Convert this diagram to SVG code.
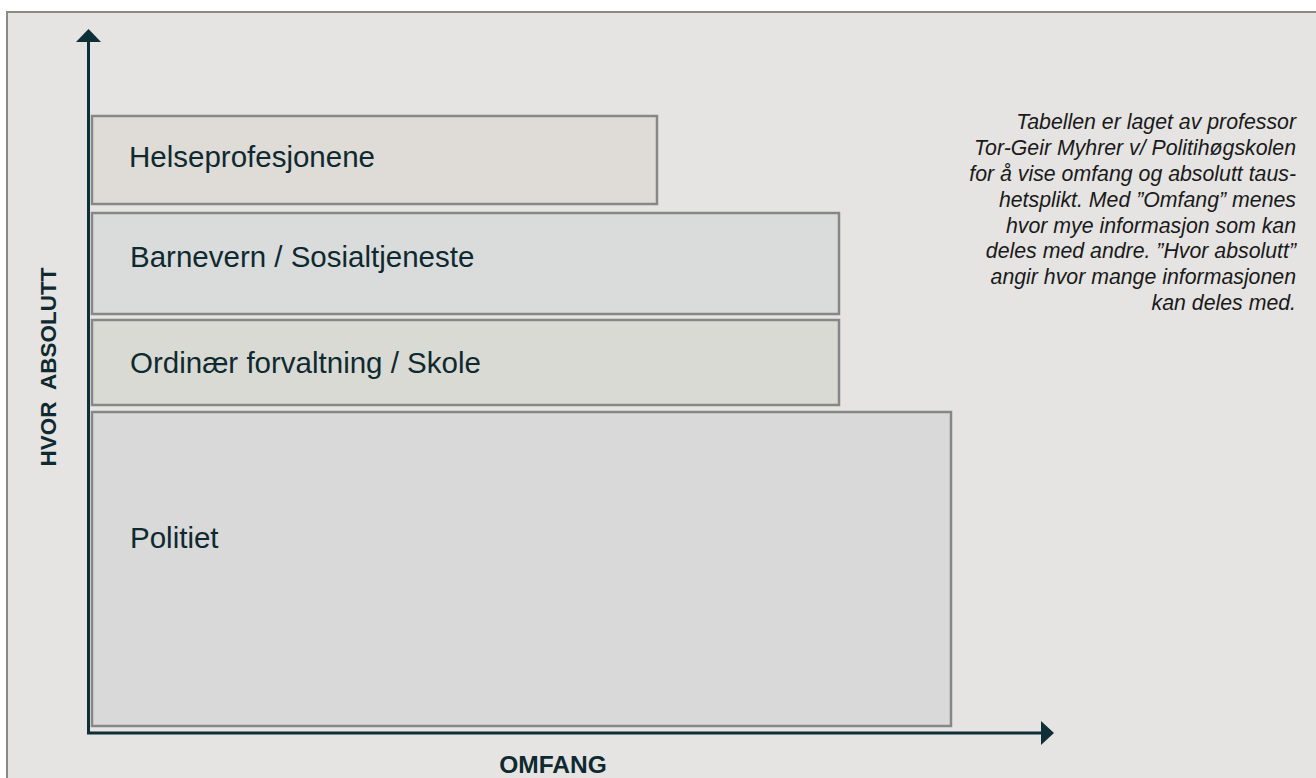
<svg xmlns="http://www.w3.org/2000/svg" width="1316" height="778" viewBox="0 0 1316 778">
<style>
.bar{stroke:#878787;stroke-width:2.5}
.lbl{font-family:"Liberation Sans",Arial,sans-serif;font-size:29.5px;fill:#0e2a30}
.ax{font-family:"Liberation Sans",Arial,sans-serif;font-weight:bold;fill:#0e2a30}
.note{font-family:"Liberation Sans",Arial,sans-serif;font-style:italic;font-size:21.3px;fill:#1a1a1a;text-anchor:end}
.axis{stroke:#0e2f35;stroke-width:3;fill:none}
</style>
<rect x="0" y="0" width="1316" height="778" fill="#ffffff"/>
<rect x="7" y="12" width="1320" height="780" fill="#e5e4e2" stroke="#8a8a8a" stroke-width="2"/>
<g id="helse">
<rect class="bar" x="92" y="116" width="565" height="88" fill="#dfdbd7"/>
<text class="lbl" x="129" y="167">Helseprofesjonene</text>
</g>
<g id="barnevern">
<rect class="bar" x="92" y="213" width="747" height="101" fill="#dadcdb"/>
<text class="lbl" x="130" y="267">Barnevern / Sosialtjeneste</text>
</g>
<g id="ordinaer">
<rect class="bar" x="92" y="320" width="747" height="85" fill="#dadad4"/>
<text class="lbl" x="130" y="373">Ordinær forvaltning / Skole</text>
</g>
<g id="politiet">
<rect class="bar" x="92" y="412" width="859" height="314" fill="#d8d9d8"/>
<text class="lbl" x="130" y="548">Politiet</text>
</g>
<g id="connectors">
<polyline class="axis" points="88.5,40 88.5,733 1043,733"/>
<polygon points="88.5,29 76,42 101,42" fill="#0e2f35"/>
<polygon points="1054,733 1041,721 1041,745" fill="#0e2f35"/>
</g>
<g id="axis-labels">
<text class="ax" font-size="22.5" text-anchor="middle" transform="translate(56,367) rotate(-90)" xml:space="preserve">HVOR  ABSOLUTT</text>
<text class="ax" font-size="24.5" text-anchor="middle" x="553" y="773">OMFANG</text>
</g>
<g id="note">
<text class="note" x="1296" y="129">Tabellen er laget av professor</text>
<text class="note" x="1296" y="155">Tor-Geir Myhrer v/ Politihøgskolen</text>
<text class="note" x="1296" y="181">for å vise omfang og absolutt taus-</text>
<text class="note" x="1296" y="207">hetsplikt. Med ”Omfang” menes</text>
<text class="note" x="1296" y="233">hvor mye informasjon som kan</text>
<text class="note" x="1296" y="258">deles med andre. ”Hvor absolutt”</text>
<text class="note" x="1296" y="284">angir hvor mange informasjonen</text>
<text class="note" x="1296" y="310">kan deles med.</text>
</g>
</svg>
